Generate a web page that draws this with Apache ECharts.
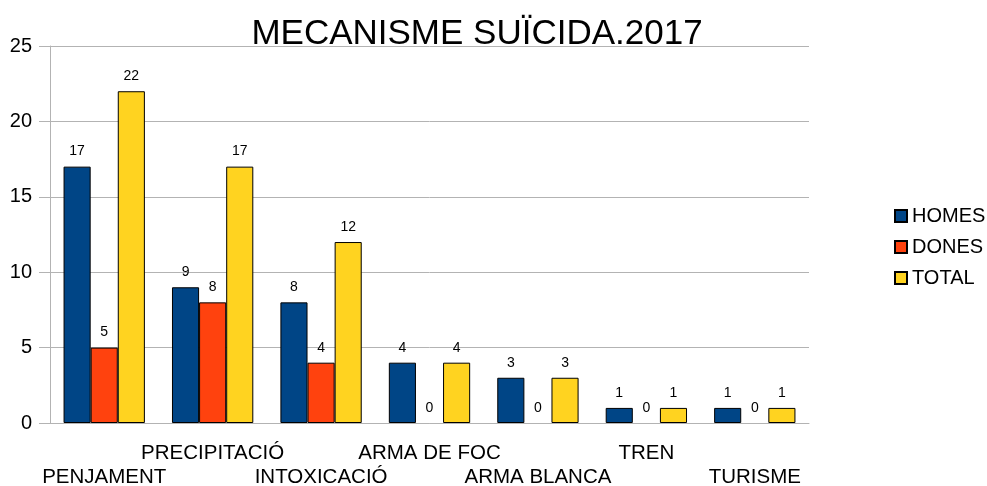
<!DOCTYPE html>
<html>
<head>
<meta charset="utf-8">
<script src="https://cdn.jsdelivr.net/npm/echarts@6/dist/echarts.min.js"></script>
<style>
  html, body { margin: 0; padding: 0; background: #fff; }
  #chart { width: 987px; height: 486px; }
</style>
</head>
<body>
<div id="chart"></div>
<script>
// dades
const categories = ['PENJAMENT', 'PRECIPITACIÓ', 'INTOXICACIÓ', 'ARMA DE FOC', 'ARMA BLANCA', 'TREN', 'TURISME'];
const homes = [17, 9, 8, 4, 3, 1, 1];
const dones = [5, 8, 4, 0, 0, 0, 0];
const total = [22, 17, 12, 4, 3, 1, 1];

const font = 'Liberation Sans, Arial, sans-serif';

const chart = echarts.init(document.getElementById('chart'));

function serie(name, data, color) {
  return {
    name: name,
    type: 'bar',
    // les barres de valor 0 sense vora
    data: data.map(v => (v === 0 ? { value: v, itemStyle: { borderWidth: 0 } } : v)),
    barGap: '0%',
    barCategoryGap: '25%',
    itemStyle: { color: color, borderColor: '#000', borderWidth: 1 },
    label: {
      show: true,
      position: 'top',
      distance: 8,
      fontSize: 14,
      fontFamily: font,
      color: '#000'
    }
  };
}

const option = {
  animation: false,
  title: {
    text: 'MECANISME SUÏCIDA.2017',
    left: 472,
    top: 12,
    textAlign: 'center',
    textStyle: { fontSize: 35, fontWeight: 'normal', fontFamily: font, color: '#000' }
  },
  grid: { left: 50, right: 178, top: 46, bottom: 63, outerBoundsMode: 'none', containLabel: false },
  legend: {
    orient: 'vertical',
    left: 889,
    top: 201,
    itemWidth: 12,
    itemHeight: 12,
    itemGap: 11,
    icon: 'rect',
    textStyle: { fontSize: 20, fontFamily: font, color: '#000' },
    data: ['HOMES', 'DONES', 'TOTAL']
  },
  xAxis: {
    type: 'category',
    data: categories,
    axisLine: { lineStyle: { color: '#b3b3b3' } },
    axisTick: { length: 10, lineStyle: { color: '#b3b3b3' } },
    axisLabel: {
      interval: 0,
      margin: 18,
      fontSize: 20.5,
      lineHeight: 24,
      fontFamily: font,
      color: '#000',
      // etiquetes esglaonades
      formatter: (v, i) => (i % 2 === 0 ? '\n' + v : v)
    }
  },
  yAxis: {
    type: 'value',
    min: 0,
    max: 25,
    interval: 5,
    axisLine: { show: true, lineStyle: { color: '#b3b3b3' } },
    axisTick: { show: true, length: 11, lineStyle: { color: '#b3b3b3' } },
    splitLine: { lineStyle: { color: '#b3b3b3' } },
    axisLabel: { fontSize: 20, margin: 18, fontFamily: font, color: '#000' }
  },
  series: [
    serie('HOMES', homes, '#004586'),
    serie('DONES', dones, '#ff420e'),
    serie('TOTAL', total, '#ffd320')
  ]
};

chart.setOption(option);
</script>
</body>
</html>
